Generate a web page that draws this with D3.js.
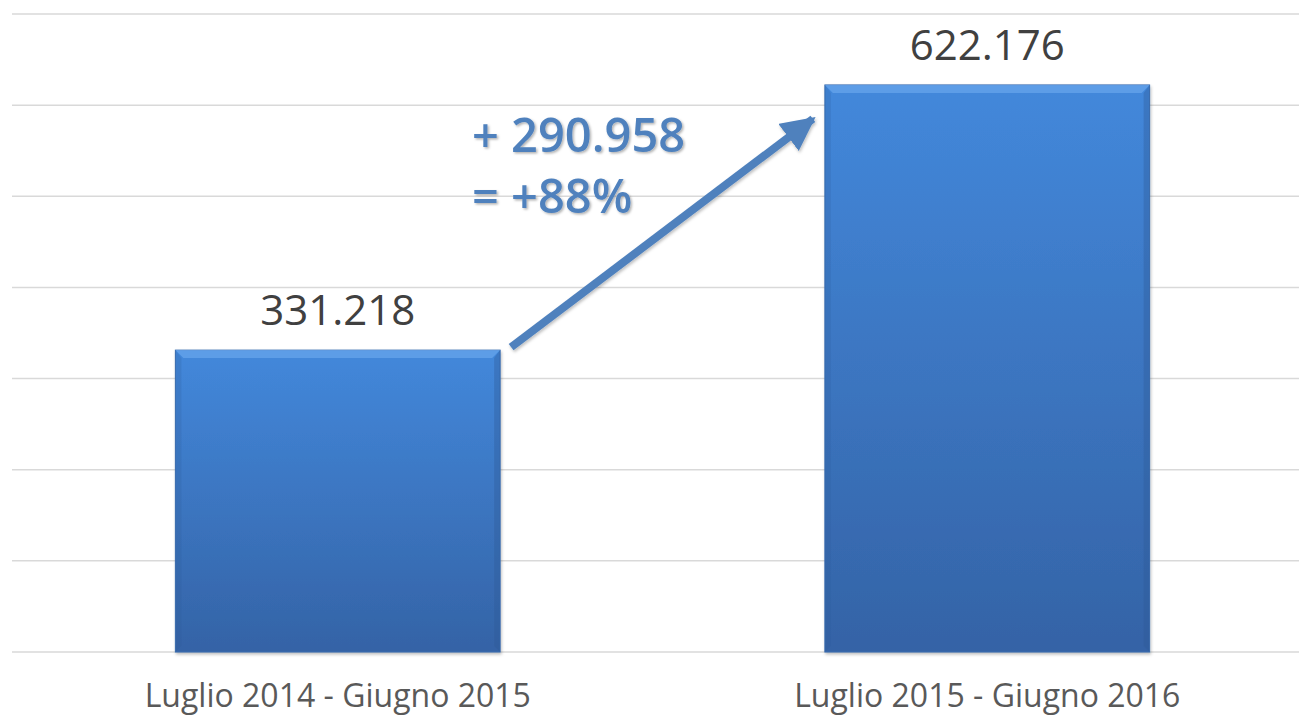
<!DOCTYPE html>
<html>
<head>
  <meta charset="utf-8">
  <title>Confronto periodi</title>
  <script src="https://d3js.org/d3.v7.min.js"></script>
  <style>
    body { margin: 0; background: #fff; }
    text { font-family: "Open Sans", "Noto Sans", sans-serif; }
  </style>
</head>
<body>
  <div id="chart"></div>

  <script>
    // data
    var periods = ["Luglio 2014 - Giugno 2015", "Luglio 2015 - Giugno 2016"];
    var values = [331218, 622176];
    var gridTicks = [0, 100000, 200000, 300000, 400000, 500000, 600000, 700000];

    var W = 1299, H = 718;
    var margin = {top: 14, right: -13, bottom: 66, left: 13};
    var width = W - margin.left - margin.right,
        height = H - margin.top - margin.bottom;

    var it = d3.formatLocale({decimal: ",", thousands: ".", grouping: [3], currency: ["€", ""]});
    var fmt = it.format(",d");

    var svg = d3.select("#chart").append("svg")
        .attr("width", W)
        .attr("height", H);

    var defs = svg.append("defs");

    // bar gradient
    var grad = defs.append("linearGradient")
        .attr("id", "barGrad")
        .attr("x1", 0).attr("y1", 0).attr("x2", 0).attr("y2", 1);
    grad.append("stop").attr("offset", "0%").attr("stop-color", "#4388DB");
    grad.append("stop").attr("offset", "100%").attr("stop-color", "#3463A6");

    var shadow = defs.append("filter").attr("id", "shadow")
        .attr("x", "-10%").attr("y", "-10%").attr("width", "120%").attr("height", "120%");
    shadow.append("feDropShadow").attr("dx", 1).attr("dy", 2).attr("stdDeviation", 1.5)
        .attr("flood-color", "#000").attr("flood-opacity", 0.25);

    var txtShadow = defs.append("filter").attr("id", "txtShadow");
    txtShadow.append("feDropShadow").attr("dx", 1.5).attr("dy", 1.5).attr("stdDeviation", 1)
        .attr("flood-color", "#000").attr("flood-opacity", 0.3);

    defs.append("marker")
        .attr("id", "head")
        .attr("viewBox", "0 0 10 10")
        .attr("refX", 9).attr("refY", 5)
        .attr("markerUnits", "userSpaceOnUse")
        .attr("markerWidth", 34).attr("markerHeight", 34)
        .attr("orient", "auto")
      .append("path")
        .attr("d", "M0,0 L10,5 L0,10 Z")
        .attr("fill", "#4F81BD");

    var g = svg.append("g")
        .attr("transform", "translate(" + margin.left + "," + margin.top + ")");

    var x = d3.scaleBand()
        .domain(periods)
        .range([0, width])
        .paddingInner(0.5)
        .paddingOuter(0.25);

    var y = d3.scaleLinear()
        .domain([0, 700000])
        .range([height, 0]);

    // gridlines
    g.append("g")
      .selectAll("line")
      .data(gridTicks)
      .enter().append("line")
        .attr("x1", -1)
        .attr("x2", W)
        .attr("y1", function(d) { return y(d); })
        .attr("y2", function(d) { return y(d); })
        .attr("stroke", "#D9D9D9")
        .attr("stroke-width", 1.5);

    // bars
    var bars = g.append("g").selectAll("g.bar")
      .data(values)
      .enter().append("g").attr("class", "bar");

    bars.append("rect")
        .attr("x", function(d, i) { return x(periods[i]); })
        .attr("y", function(d) { return y(d); })
        .attr("width", x.bandwidth())
        .attr("height", function(d) { return height - y(d); })
        .attr("fill", "url(#barGrad)")
        .attr("stroke", "#3A6DB0")
        .attr("stroke-width", 1)
        .attr("filter", "url(#shadow)");

    // bevel highlight on top edge
    bars.append("path")
        .attr("d", function(d, i) {
          var x0 = x(periods[i]), x1 = x0 + x.bandwidth(), y0 = y(d);
          return "M" + x0 + "," + y0 + "L" + x1 + "," + y0 + "L" + (x1 - 8) + "," + (y0 + 8) + "L" + (x0 + 8) + "," + (y0 + 8) + "Z";
        })
        .attr("fill", "#6AA6EC")
        .attr("opacity", 0.7);

    // darker side bevels
    bars.append("path")
        .attr("d", function(d, i) {
          var x0 = x(periods[i]), x1 = x0 + x.bandwidth(), y0 = y(d);
          return "M" + x1 + "," + y0 + "L" + x1 + "," + height + "L" + (x1 - 6) + "," + (height - 6) + "L" + (x1 - 6) + "," + (y0 + 8) + "Z";
        })
        .attr("fill", "#2F5A96")
        .attr("opacity", 0.35);

    bars.append("path")
        .attr("d", function(d, i) {
          var x0 = x(periods[i]), y0 = y(d);
          return "M" + x0 + "," + y0 + "L" + x0 + "," + height + "L" + (x0 + 6) + "," + (height - 6) + "L" + (x0 + 6) + "," + (y0 + 8) + "Z";
        })
        .attr("fill", "#2F5A96")
        .attr("opacity", 0.2);

    // value labels
    bars.append("text")
        .attr("x", function(d, i) { return x(periods[i]) + x.bandwidth() / 2; })
        .attr("y", function(d) { return y(d) - 25; })
        .attr("text-anchor", "middle")
        .style("font-size", "42px")
        .style("fill", "#404040")
        .text(function(d) { return fmt(d); });

    // category labels
    g.append("g").selectAll("text")
      .data(periods)
      .enter().append("text")
        .attr("x", function(d) { return x(d) + x.bandwidth() / 2; })
        .attr("y", height + 55)
        .attr("text-anchor", "middle")
        .style("font-size", "32px")
        .style("fill", "#595959")
        .text(function(d) { return d; });

    // arrow between bars
    var ax0 = x(periods[0]) + x.bandwidth() + 11,
        ay0 = y(values[0]) - 3,
        ax1 = x(periods[1]) - 12,
        ay1 = y(values[1]) + 34;
    g.append("line")
        .attr("x1", ax0).attr("y1", ay0)
        .attr("x2", ax1).attr("y2", ay1)
        .attr("stroke", "#4F81BD")
        .attr("stroke-width", 8)
        .attr("marker-end", "url(#head)")
        .attr("filter", "url(#shadow)");

    // difference annotation
    var diff = values[1] - values[0];
    var pct = Math.round(diff / values[0] * 100);
    var note = g.append("text")
        .style("font-size", "47px")
        .style("font-weight", "600")
        .style("fill", "#4F81BD")
        .attr("filter", "url(#txtShadow)");
    note.append("tspan").attr("x", 459).attr("y", 138).text("+ " + fmt(diff));
    note.append("tspan").attr("x", 459).attr("y", 199).text("= +" + pct + "%");
  </script>
</body>
</html>
